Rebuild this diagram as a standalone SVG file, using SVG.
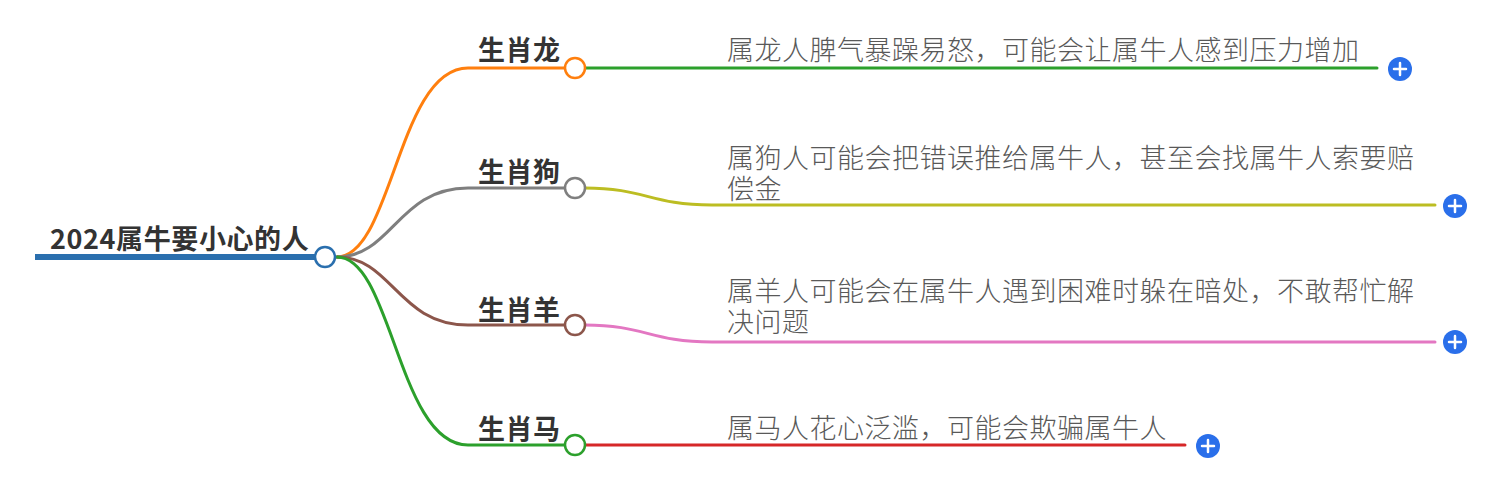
<svg xmlns="http://www.w3.org/2000/svg" width="1490" height="484" viewBox="0 0 1490 484">
<style>
.c{fill:none;stroke-width:3;stroke-linecap:round}
.lbl{font-family:"Noto Sans CJK SC","Noto Sans",sans-serif;font-size:27px;font-weight:700;fill:#333;letter-spacing:0.5px}
.root{font-family:"Noto Sans CJK SC","Noto Sans",sans-serif;font-size:27px;font-weight:700;fill:#333;letter-spacing:0.6px}
.desc{font-family:"Noto Sans CJK SC Light","Noto Sans CJK SC","Noto Sans",sans-serif;font-size:27px;font-weight:300;fill:#595959;letter-spacing:0.5px}
.knob{fill:#fff;stroke-width:2.5}
.plus circle{fill:#2a6fea}
.plus path{stroke:#fff;stroke-width:2.5;stroke-linecap:round}
</style>
<g id="connectors">
<path class="c" stroke="#ff7f0e" d="M337,257 C392,257 398,68 468,68 L565,68"/>
<path class="c" stroke="#7f7f7f" d="M337,257 C392,257 398,188 468,188 L565,188"/>
<path class="c" stroke="#8c564b" d="M337,257 C392,257 398,325 468,325 L565,325"/>
<path class="c" stroke="#2ca02c" d="M337,257 C392,257 398,445 468,445 L565,445"/>
<path class="c" stroke="#2ca02c" d="M585,68 L1377,68"/>
<path class="c" stroke="#bcbd22" d="M585,188 C645,188 650,205 712,205 L1435,205"/>
<path class="c" stroke="#e377c2" d="M585,325 C645,325 650,342 712,342 L1435,342"/>
<path class="c" stroke="#d62728" d="M585,445 L1185,445"/>
</g>
<g id="root">
<line x1="35" y1="257" x2="316" y2="257" stroke="#2a6fae" stroke-width="6"/>
<text class="root" x="50" y="249">2024属牛要小心的人</text>
<circle class="knob" cx="325" cy="257" r="10" stroke="#2a6fae"/>
</g>
<g id="dragon">
<text class="lbl" x="478" y="60">生肖龙</text>
<circle class="knob" cx="575" cy="68" r="10" stroke="#ff7f0e"/>
</g>
<g id="dog">
<text class="lbl" x="478" y="182">生肖狗</text>
<circle class="knob" cx="575" cy="188" r="10" stroke="#7f7f7f"/>
</g>
<g id="sheep">
<text class="lbl" x="478" y="320">生肖羊</text>
<circle class="knob" cx="575" cy="325" r="10" stroke="#8c564b"/>
</g>
<g id="horse">
<text class="lbl" x="478" y="439">生肖马</text>
<circle class="knob" cx="575" cy="445" r="10" stroke="#2ca02c"/>
</g>
<g id="desc-dragon">
<text class="desc" x="727" y="60">属龙人脾气暴躁易怒，可能会让属牛人感到压力增加</text>
<g class="plus"><circle cx="1400" cy="69" r="12"/><path d="M1394,69 H1406 M1400,63 V75"/></g>
</g>
<g id="desc-dog">
<text class="desc" x="727" y="168"><tspan x="727" y="168">属狗人可能会把错误推给属牛人，甚至会找属牛人索要赔</tspan><tspan x="727" y="199">偿金</tspan></text>
<g class="plus"><circle cx="1455" cy="206" r="12"/><path d="M1449,206 H1461 M1455,200 V212"/></g>
</g>
<g id="desc-sheep">
<text class="desc" x="727" y="301"><tspan x="727" y="301">属羊人可能会在属牛人遇到困难时躲在暗处，不敢帮忙解</tspan><tspan x="727" y="332">决问题</tspan></text>
<g class="plus"><circle cx="1455" cy="342" r="12"/><path d="M1449,342 H1461 M1455,336 V348"/></g>
</g>
<g id="desc-horse">
<text class="desc" x="727" y="438">属马人花心泛滥，可能会欺骗属牛人</text>
<g class="plus"><circle cx="1208" cy="446" r="12"/><path d="M1202,446 H1214 M1208,440 V452"/></g>
</g>
</svg>
